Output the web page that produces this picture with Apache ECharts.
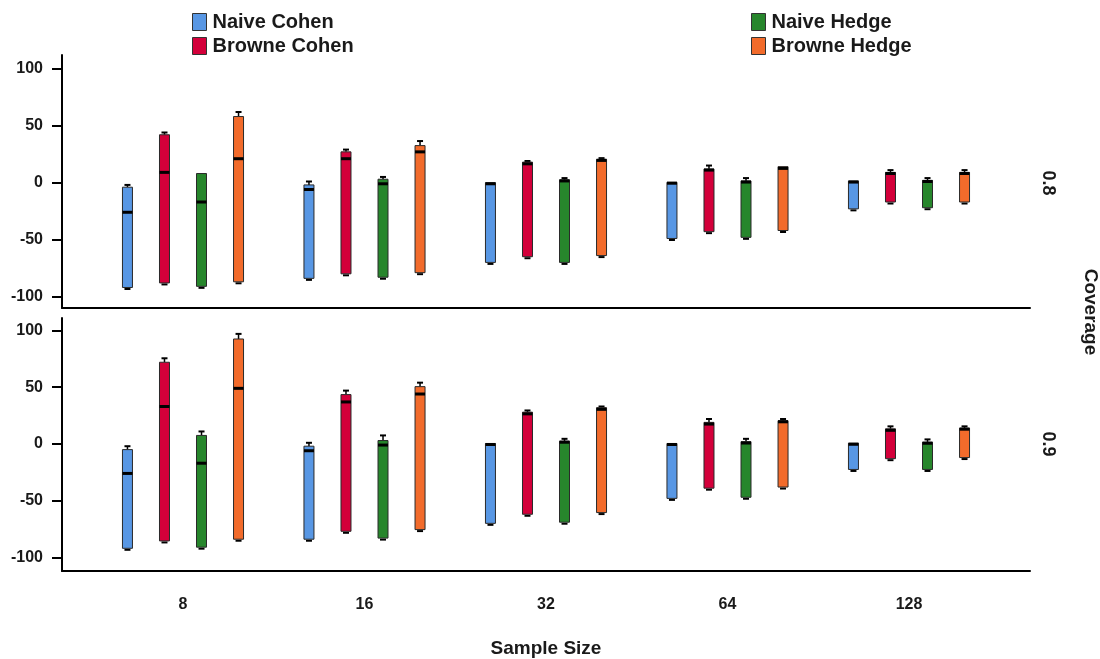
<!DOCTYPE html>
<html>
<head>
<meta charset="utf-8">
<script src="https://cdn.jsdelivr.net/npm/echarts@6/dist/echarts.min.js"></script>
<style>
html,body{margin:0;padding:0;background:#fff;}
#chart{width:1100px;height:659px;}
</style>
</head>
<body>
<div id="chart"></div>
<script>
// ---- data ----
const categories = ['8', '16', '32', '64', '128'];
const seriesNames = ['Naive Cohen', 'Browne Cohen', 'Naive Hedge', 'Browne Hedge'];
const seriesColors = ['#5897E4', '#D3003A', '#27862C', '#F26B2B'];
const yTicks = [-100, -50, 0, 50, 100];
const panelLabels = ['0.8', '0.9'];

// each entry per category: [low, median, high, upperWhisker]
const cov08NaiveCohen  = [[-92, -26, -4, -2], [-84, -6, -2, 1], [-70, -1, 0, 0.5], [-49, -0.5, 0.3, 0.5], [-23, 0.5, 1.5, 1.5]];
const cov08BrowneCohen = [[-88, 9, 42, 44], [-80, 21, 27, 29], [-65, 16.5, 18, 19], [-43, 11, 12, 15], [-17, 8, 9, 11]];
const cov08NaiveHedge  = [[-91, -17, 8, 8.5], [-83, -1, 3, 5], [-70, 1.5, 2.5, 4], [-48, 0.5, 1.5, 4], [-22, 1, 2, 4]];
const cov08BrowneHedge = [[-87, 21, 58, 62], [-79, 27, 32.5, 36.5], [-64, 19.5, 20.5, 21.5], [-42, 12.5, 14, 14.5], [-17, 8, 9, 11]];

const cov09NaiveCohen  = [[-92, -26, -5, -2], [-84, -6, -2, 1], [-70, -0.5, 0.4, 0.5], [-48, -0.5, 0.4, 0.5], [-22.5, -0.3, 0.7, 0.7]];
const cov09BrowneCohen = [[-85.5, 33, 72, 75.5], [-77, 37, 43.5, 47], [-62, 26.5, 28, 29.5], [-39, 17.5, 19, 22], [-13, 12, 13.3, 15.5]];
const cov09NaiveHedge  = [[-91, -17, 7.5, 11], [-83, -1, 3, 7.5], [-69, 1.5, 2.5, 4.5], [-47, 0.8, 2, 4.5], [-22.5, 0.6, 1.6, 4]];
const cov09BrowneHedge = [[-84, 49, 92.5, 97], [-75.5, 44, 50.5, 54], [-60.5, 30.5, 32, 33], [-38, 19.5, 20.5, 22], [-12, 13, 14, 15.5]];

const panels = [
  [cov08NaiveCohen, cov08BrowneCohen, cov08NaiveHedge, cov08BrowneHedge],
  [cov09NaiveCohen, cov09BrowneCohen, cov09NaiveHedge, cov09BrowneHedge]
];

// ---- chart ----
const FONT = '"Liberation Sans", Arial, sans-serif';
const TXT = '#1a1a1a';

function makeRender(si) {
  return function (params, api) {
    const xi = api.value(0);
    const low = api.value(1), med = api.value(2), high = api.value(3), cap = api.value(4);
    const unit = api.size([1, 0])[0];
    const cx = api.coord([xi, 0])[0] + (si - 1.5) * 0.204 * unit;
    const yL = api.coord([xi, low])[1];
    const yH = api.coord([xi, high])[1];
    const yM = api.coord([xi, med])[1];
    const yC = api.coord([xi, cap])[1];
    const bw = 10;
    const children = [];
    if (yH - yC > 1) {
      children.push({type: 'line', shape: {x1: cx, y1: yH, x2: cx, y2: yC}, style: {stroke: '#000', lineWidth: 1.5}});
      children.push({type: 'line', shape: {x1: cx - 3, y1: yC, x2: cx + 3, y2: yC}, style: {stroke: '#000', lineWidth: 2}});
    }
    // small lower whisker cap
    children.push({type: 'line', shape: {x1: cx - 3, y1: yL + 1.5, x2: cx + 3, y2: yL + 1.5}, style: {stroke: '#000', lineWidth: 2}});
    children.push({type: 'rect', shape: {x: cx - bw / 2, y: yH, width: bw, height: yL - yH},
      style: {fill: seriesColors[si], stroke: '#2a2a2a', lineWidth: 1}});
    children.push({type: 'line', shape: {x1: cx - bw / 2, y1: yM, x2: cx + bw / 2, y2: yM}, style: {stroke: '#000', lineWidth: 3}});
    return {type: 'group', children: children};
  };
}

const grids = [
  {left: 62, right: 70, top: 55, height: 253},
  {left: 62, right: 70, top: 318, height: 254}
];
const yRanges = [[-110, 112], [-112, 111]];

const xAxes = [0, 1].map(p => ({
  type: 'value', gridIndex: p, min: -2 / 3, max: 14 / 3,
  axisLine: {show: true, onZero: false, lineStyle: {color: '#000', width: 2}},
  splitLine: {show: false},
  axisTick: {show: false},
  axisLabel: {show: p === 1, customValues: [0, 1, 2, 3, 4], formatter: v => categories[Math.round(v)] || '',
    color: TXT, fontFamily: FONT, fontWeight: 'bold', fontSize: 16, margin: 26},
  name: p === 1 ? 'Sample Size' : '', nameLocation: 'middle', nameGap: 68,
  nameTextStyle: {color: TXT, fontFamily: FONT, fontWeight: 'bold', fontSize: 19}
}));

const yAxes = [0, 1].map(p => ({
  type: 'value', gridIndex: p, min: yRanges[p][0], max: yRanges[p][1],
  axisLine: {show: true, onZero: false, lineStyle: {color: '#000', width: 2}},
  splitLine: {show: false},
  axisTick: {show: true, inside: false, length: 10, lineStyle: {color: '#000', width: 2}, customValues: yTicks},
  axisLabel: {customValues: yTicks, color: TXT, fontFamily: FONT, fontWeight: 'bold', fontSize: 16, margin: 19}
}));

const series = [];
panels.forEach((panel, p) => {
  panel.forEach((arr, si) => {
    series.push({
      type: 'custom', name: seriesNames[si], xAxisIndex: p, yAxisIndex: p,
      itemStyle: {color: seriesColors[si], borderColor: '#333', borderWidth: 1},
      renderItem: makeRender(si),
      encode: {x: 0, y: [1, 3]},
      data: arr.map((d, ci) => [ci, d[0], d[1], d[2], d[3]]),
      silent: true
    });
  });
});

const legendCommon = {
  orient: 'vertical', icon: 'rect', itemWidth: 14, itemHeight: 17, itemGap: 4,
  textStyle: {color: TXT, fontFamily: FONT, fontWeight: 'bold', fontSize: 20, padding: [0, 0, 0, 1]},
  itemStyle: {borderColor: '#333', borderWidth: 1}, selectedMode: false, padding: 0
};

const chart = echarts.init(document.getElementById('chart'), null, {renderer: 'canvas'});
chart.setOption({
  backgroundColor: '#fff',
  animation: false,
  grid: grids,
  xAxis: xAxes,
  yAxis: yAxes,
  legend: [
    Object.assign({}, legendCommon, {left: 192, top: 12, data: [seriesNames[0], seriesNames[1]]}),
    Object.assign({}, legendCommon, {left: 751, top: 12, data: [seriesNames[2], seriesNames[3]]})
  ],
  series: series,
  graphic: [
    {type: 'text', x: 1048, y: 183, rotation: -Math.PI / 2,
      style: {text: panelLabels[0], align: 'center', verticalAlign: 'middle', fill: TXT, font: 'bold 18px ' + FONT}},
    {type: 'text', x: 1048, y: 444, rotation: -Math.PI / 2,
      style: {text: panelLabels[1], align: 'center', verticalAlign: 'middle', fill: TXT, font: 'bold 18px ' + FONT}},
    {type: 'text', x: 1090, y: 312, rotation: -Math.PI / 2,
      style: {text: 'Coverage', align: 'center', verticalAlign: 'middle', fill: TXT, font: 'bold 19px ' + FONT}}
  ]
});
</script>
</body>
</html>
